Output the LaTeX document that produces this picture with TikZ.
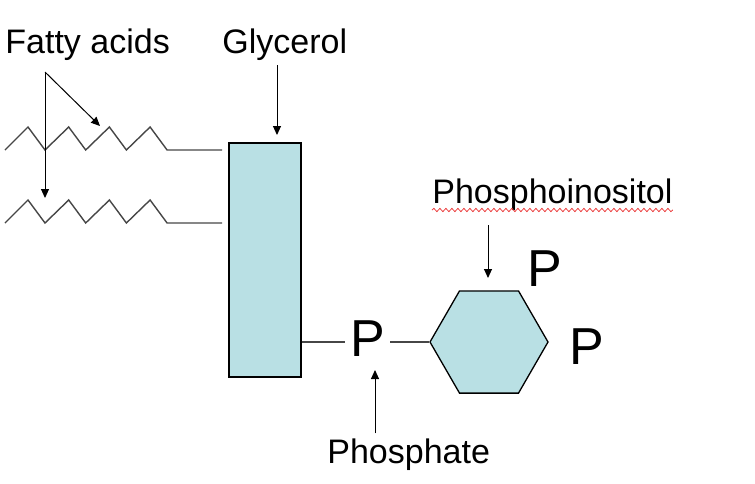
\documentclass[tikz,border=0pt]{standalone}
\usepackage{fontspec}
\setmainfont{Liberation Sans}
\usetikzlibrary{arrows.meta, shapes.geometric, decorations.pathmorphing}
\definecolor{celeste}{RGB}{185,224,228}
\definecolor{gris}{RGB}{70,70,70}
\definecolor{rojo}{RGB}{235,60,60}

\begin{document}
\begin{tikzpicture}[x=0.5pt, y=-0.5pt,
        lbl/.style={font=\fontsize{17}{20}\selectfont, inner sep=0pt, outer ysep=2.5pt, anchor=base west},
        bigp/.style={font=\fontsize{26}{30}\selectfont, inner sep=0pt, anchor=base west},
        block/.style={rectangle, draw=black, fill=celeste, line width=0.65pt},
        chain/.style={gris, line width=0.7pt, line join=miter},
        bond/.style={gris, line width=0.65pt},
        arrow/.style={-{Triangle[length=4.5pt, width=4pt]}, line width=0.5pt, black}
    ]
        \useasboundingbox (0,0) rectangle (755,483);

        % labels
        \node[lbl] (fatty) at (5,53) {Fatty acids};
        \node[lbl] (glyl) at (222,53) {Glycerol};
        \node[lbl] (inos) at (432,203) {Phosphoinositol};
        \node[lbl] (phosl) at (327,463) {Phosphate};

        % glycerol, phosphate and ring
        \node[block, minimum width=36pt, minimum height=117pt] (glyc) at (265,260) {};
        \node[block, regular polygon, regular polygon sides=6, minimum size=59pt, inner sep=0pt] (ring) at (489,342) {};
        \node[bigp, inner xsep=2.5pt] (pP) at (345,356) {P};
        \node[bigp] (p1) at (527,286) {P};
        \node[bigp] (p2) at (569,364) {P};

        % fatty acid chains
        \foreach \y in {150,223}
            \draw[chain] (5,\y) \foreach \i in {0,...,3} { -- ({28+40.7*\i},{\y-23}) -- ({45+40.7*\i},\y) } -- (222,\y);

        % arrows
        \coordinate (fork) at (45,72);
        \coordinate (tipA) at (100,126);
        \coordinate (tipB) at (45,198);
        \coordinate (gltip) at (277,135);
        \coordinate (intip) at (488,278);
        \coordinate (phtip) at (375,370);
        \draw[arrow] (fork) -- (tipA);
        \draw[arrow] (fork) -- (tipB);
        \draw[arrow] (gltip |- glyl.south) -- (gltip);
        \draw[arrow, shorten <=5pt] (intip |- inos.south) -- (intip);
        \draw[arrow] (phtip |- phosl.north) -- (phtip);

        % bonds
        \coordinate (lnk) at (0,342);
        \draw[bond] (glyc.east |- lnk) -- (pP.west |- lnk);
        \draw[bond] (pP.east |- lnk) -- (ring.west);

        % spelling mark
        \draw[rojo, line width=0.4pt, decorate, decoration={snake, amplitude=0.8pt, segment length=3pt}]
            ([yshift=-3.5pt]inos.base west) -- ([yshift=-3.5pt]inos.base east);
    \end{tikzpicture}
\end{document}
